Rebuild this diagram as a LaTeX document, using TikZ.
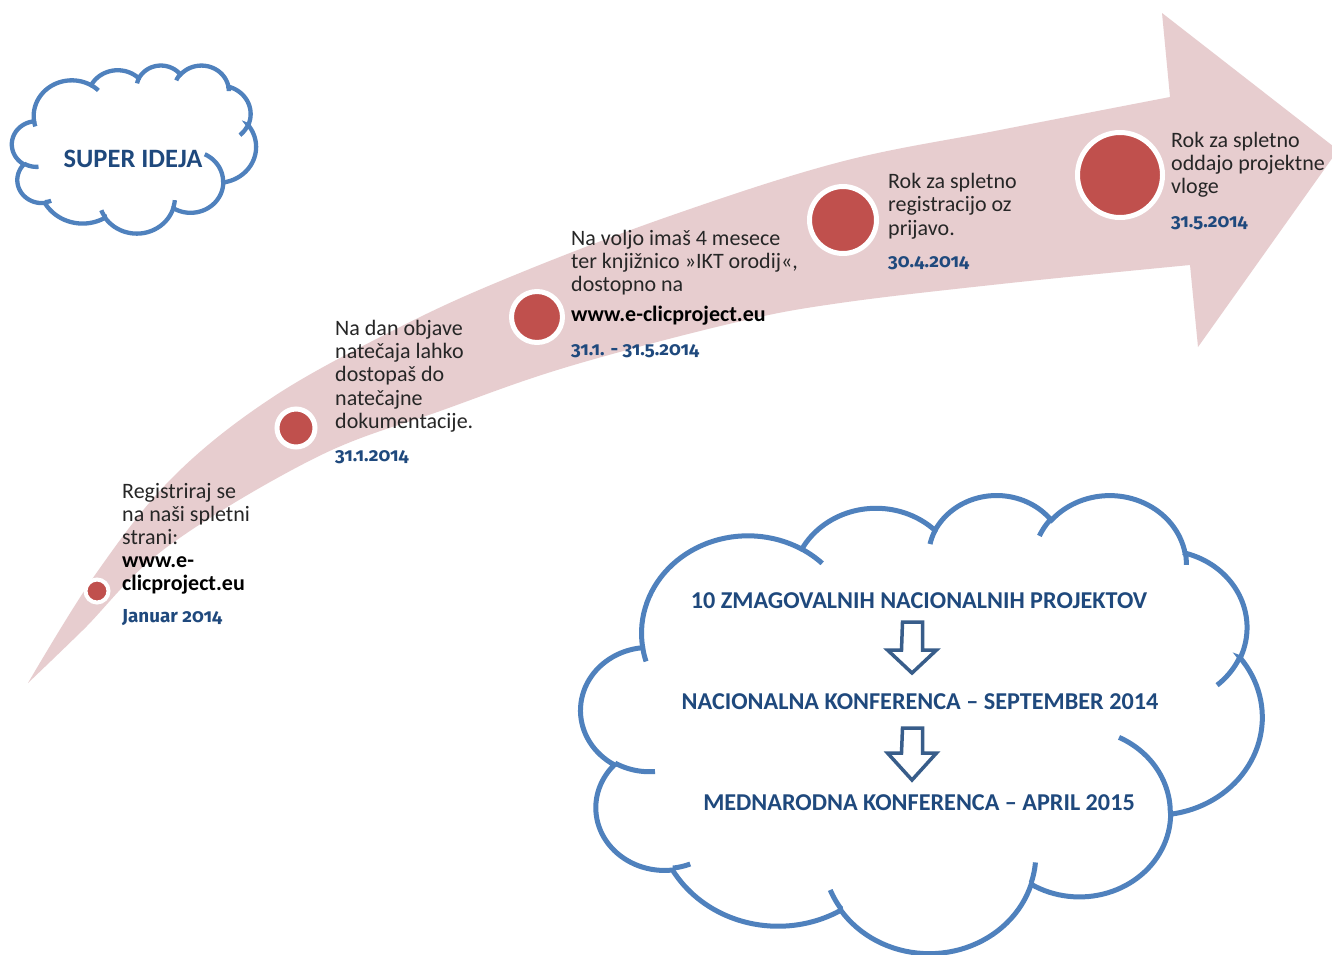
\documentclass[tikz,border=0pt]{standalone}
\usepackage{fontspec}
\setmainfont{Carlito}
\newfontfamily\datefont[Numbers={OldStyle,Proportional}]{Fira Sans}
\definecolor{arrowpink}{HTML}{E7CDCF}
\definecolor{dotred}{HTML}{C0504D}
\definecolor{cloudblue}{HTML}{4F81BD}
\definecolor{textblue}{HTML}{1F497D}
\definecolor{barrow}{HTML}{385D8A}
\definecolor{textgray}{HTML}{262626}
\tikzset{
  cloudline/.style={draw=cloudblue, samples=40},
  dot/.style={circle, fill=dotred, draw=white, inner sep=0pt},
  tl/.style={font=\fontsize{22}{26}\selectfont, text=textgray, inner sep=0pt, anchor=base west},
  url/.style={font=\bfseries\fontsize{22}{26}\selectfont, text=black, inner sep=0pt, anchor=base west},
  datetxt/.style={font=\datefont\bfseries\fontsize{18.8}{22}\selectfont, text=textblue, inner sep=0pt, anchor=base west},
  cloudtxt/.style={font=\bfseries\fontsize{24.2}{28}\selectfont, text=textblue, inner sep=0pt, anchor=base},
  blockarrow/.style={draw=barrow, fill=white, line width=3.5pt, line join=miter},
}
\newcommand\cloudbody{%
  \draw[cloudline, fill=white] (39.00,143.70)
    -- plot[domain=172.255:300.37] ({105.914+67.53*cos(\x)},{131.316+91.90*sin(\x)})
    -- plot[domain=-152.02:-45.45] ({187.159+53.33*cos(\x)},{86.124+72.67*sin(\x)})
    -- plot[domain=-153.49:-37.34] ({263.632+43.65*cos(\x)},{60.869+59.45*sin(\x)})
    -- plot[domain=-139.71:-10.21] ({335.390+48.57*cos(\x)},{67.445+65.95*sin(\x)})
    -- plot[domain=-74.77:23.21] ({369.182+53.33*cos(\x)},{125.930+72.73*sin(\x)})
    -- plot[domain=-37.52:81.86] ({364.456+67.75*cos(\x)},{210.738+92.20*sin(\x)})
    -- plot[domain=0.46:121.97] ({316.199+57.85*cos(\x)},{301.379+78.67*sin(\x)})
    -- plot[domain=16.85:146.23] ({220.948+67.52*cos(\x)},{341.408+92.15*sin(\x)})
    -- plot[domain=58.99:150.20] ({125.050+77.20*cos(\x)},{302.262+105.43*sin(\x)})
    -- plot[domain=83.31:223.10] ({52.978+43.60*cos(\x)},{295.881+59.18*sin(\x)})
    -- plot[domain=120.36:264.11] ({43.107+43.45*cos(\x)},{204.149+59.45*sin(\x)})
    -- cycle;
  \draw[cloudline] plot[domain=85.55:120.36] ({43.558+43.45*cos(\x)},{202.50+59.45*sin(\x)});
  \draw[cloudline] plot[domain=68.24:83.30] ({53.116+43.60*cos(\x)},{294.027+59.18*sin(\x)});
  \draw[cloudline] plot[domain=146.23:158.47] ({220.911+67.52*cos(\x)},{339.68+92.15*sin(\x)});
  \draw[cloudline] plot[domain=4.738:16.85] ({220.981+67.52*cos(\x)},{339.898+92.15*sin(\x)});
  \draw[cloudline] plot[domain=-64.03:0.46] ({315.956+57.85*cos(\x)},{300.265+78.67*sin(\x)});
  \draw[cloudline] plot[domain=23.21:49.65] ({368.967+53.33*cos(\x)},{124.878+72.73*sin(\x)});
  \draw[cloudline] plot[domain=-10.21:0.821] ({335.439+48.57*cos(\x)},{65.951+65.95*sin(\x)});
  \draw[cloudline] plot[domain=-156.29:-139.71] ({335.251+48.57*cos(\x)},{66.038+65.95*sin(\x)});
  \draw[cloudline] plot[domain=-167.73:-153.49] ({264.063+43.65*cos(\x)},{59.836+59.45*sin(\x)});
  \draw[cloudline] plot[domain=-59.63:-45.73] ({105.851+67.53*cos(\x)},{131.205+91.90*sin(\x)});
  \draw[cloudline] plot[domain=163.20:172.255] ({105.917+67.53*cos(\x)},{131.328+91.90*sin(\x)});
}
\begin{document}
\begin{tikzpicture}[x=1pt,y=-1pt]
\useasboundingbox[fill=white] (0,0) rectangle (1332,954);

% big curved arrow
\fill[arrowpink]
  plot[smooth, tension=0.6] coordinates {(28,683) (95,575) (173,477) (273,397) (400,327) (510,277) (667,217) (840,162) (1000,130) (1170,97)}
  -- (1162,13) -- (1338,150) -- (1198,347)
  -- plot[smooth, tension=0.6] coordinates {(1190,265) (1010,283) (840,303) (733,323) (567,367) (443,410) (317,457) (167,547) (83,630) (28,683)}
  -- cycle;

% milestones
\node[dot, line width=4pt, minimum size=23pt] (c1) at (97,591) {};
\node[dot, line width=5pt, minimum size=38pt] (c2) at (296,428) {};
\node[dot, line width=5pt, minimum size=51pt] (c3) at (537,317) {};
\node[dot, line width=5pt, minimum size=67pt] (c4) at (843,220) {};
\node[dot, line width=5pt, minimum size=85pt] (c5) at (1120,175) {};

% texts 1
\node[tl] (t1a) at (122,498) {Registriraj se};
\node[tl] (t1b) at (122,521) {na naši spletni};
\node[tl] (t1c) at (122,544) {strani:};
\node[url] (t1d) at (122,567) {www.e-};
\node[url] (t1e) at (122,590) {clicproject.eu};
\node[datetxt] (d1) at (122,622) {Januar 2014};
% texts 2
\node[tl] (t2a) at (335,335) {Na dan objave};
\node[tl] (t2b) at (335,358) {natečaja lahko};
\node[tl] (t2c) at (335,381) {dostopaš do};
\node[tl] (t2d) at (335,405) {natečajne};
\node[tl] (t2e) at (335,428) {dokumentacije.};
\node[datetxt] (d2) at (335,461) {31.1.2014};
% texts 3
\node[tl] (t3a) at (571,245) {Na voljo imaš 4 mesece};
\node[tl] (t3b) at (571,268) {ter knjižnico »IKT orodij«,};
\node[tl] (t3c) at (571,291) {dostopno na};
\node[url] (t3d) at (571,321) {www.e-clicproject.eu};
\node[datetxt] (d3) at (571,355) {31.1. - 31.5.2014};
% texts 4
\node[tl] (t4a) at (888,188) {Rok za spletno};
\node[tl] (t4b) at (888,211) {registracijo oz};
\node[tl] (t4c) at (888,235) {prijavo.};
\node[datetxt] (d4) at (888,267) {30.4.2014};
% texts 5
\node[tl] (t5a) at (1171,147) {Rok za spletno};
\node[tl] (t5b) at (1171,170) {oddajo projektne};
\node[tl] (t5c) at (1171,193) {vloge};
\node[datetxt] (d5) at (1171,227) {31.5.2014};

% small cloud
\begin{scope}[shift={(12,65)}, x=0.5648pt, y=-0.3889pt, cloudline/.append style={line width=4.3pt}]
  \cloudbody
\end{scope}
\node[cloudtxt, font=\bfseries\fontsize{26.5}{30}\selectfont] (idea) at (133,167) {SUPER IDEJA};

% big cloud
\begin{scope}[shift={(581,494)}, x=1.5764pt, y=-1.0602pt, cloudline/.append style={line width=5pt}]
  \cloudbody
\end{scope}
\node[cloudtxt] (k1) at (919,608) {10 ZMAGOVALNIH NACIONALNIH PROJEKTOV};
\node[cloudtxt] (k2) at (920,709) {NACIONALNA KONFERENCA – SEPTEMBER 2014};
\node[cloudtxt] (k3) at (919,810) {MEDNARODNA KONFERENCA – APRIL 2015};

\coordinate (a1) at (912.5,622);
\coordinate (a2) at (912.5,728);
\draw[blockarrow] (a1) ++(-10,0) -- ++(20,0) -- ++(0,28) -- ++(14,0) -- ++(-24.5,23) -- ++(-24.5,-23) -- ++(14,0) -- cycle;
\draw[blockarrow] (a2) ++(-10,0) -- ++(20,0) -- ++(0,25) -- ++(14,0) -- ++(-24.5,27) -- ++(-24.5,-27) -- ++(14,0) -- cycle;
\end{tikzpicture}
\end{document}
